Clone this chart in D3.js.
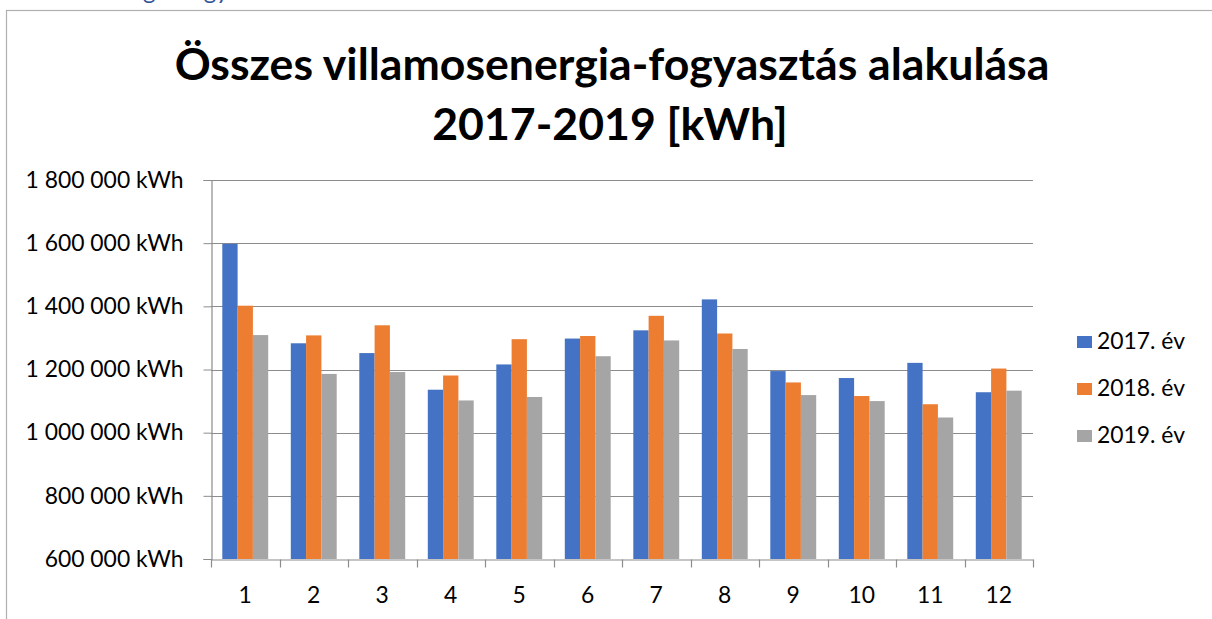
<!DOCTYPE html>
<html>
<head>
<meta charset="utf-8">
<script src="https://cdn.jsdelivr.net/npm/d3@7"></script>
<style>
  html, body { margin: 0; padding: 0; background: #fff; }
  svg { display: block; }
</style>
</head>
<body>
<svg id="chart" width="1212" height="619"></svg>
<script>
// ---- data ----
const months = ["1","2","3","4","5","6","7","8","9","10","11","12"];
const seriesNames = ["2017. év","2018. év","2019. év"];
const values2017 = [1598000,1283000,1252000,1136000,1216000,1298000,1324000,1422000,1195000,1173000,1221000,1128000];
const values2018 = [1402000,1308000,1340000,1181000,1296000,1306000,1370000,1314000,1159000,1116000,1090000,1203000];
const values2019 = [1309000,1186000,1192000,1102000,1113000,1242000,1292000,1265000,1119000,1100000,1048000,1133000];
const yTicks = [600000,800000,1000000,1200000,1400000,1600000,1800000];
const titleLines = ["Összes villamosenergia-fogyasztás alakulása","2017-2019 [kWh]"];
const headingText = "Villamosenergia-fogyasztás";

const seriesValues = [values2017, values2018, values2019];
const colors = ["#4472C4","#ED7D31","#A5A5A5"];
const FONT = "Lato, 'Open Sans', 'Noto Sans', sans-serif";

const svg = d3.select("#chart");
const plot = {left: 211, right: 1033, top: 180, bottom: 559};

// chart frame
svg.append("rect")
  .attr("x", 6.5).attr("y", 10.5)
  .attr("width", 1240).attr("height", 700)
  .attr("fill", "#fff").attr("stroke", "#b0b0b0").attr("stroke-width", 1.2);

// partially visible heading above the frame
const heading = svg.append("text")
  .attr("y", -1)
  .attr("font-family", FONT)
  .attr("font-size", 24)
  .attr("fill", "#2F5597")
  .text(headingText);
{
  const idx = headingText.indexOf("g");
  const px = heading.node().getStartPositionOfChar(idx).x;
  heading.attr("x", 143 - px);
}

// helper to fit text width
function fitText(sel, target, baseSize) {
  sel.attr("font-size", baseSize);
  const w = sel.node().getComputedTextLength();
  sel.attr("font-size", baseSize * target / w);
}

// title
const t1 = svg.append("text")
  .attr("x", 612).attr("y", 80)
  .attr("text-anchor", "middle")
  .attr("font-family", FONT).attr("font-weight", 700)
  .attr("fill", "#000")
  .text(titleLines[0]);
fitText(t1, 875, 40);
const t2 = svg.append("text")
  .attr("x", 610).attr("y", 140)
  .attr("text-anchor", "middle")
  .attr("font-family", FONT).attr("font-weight", 700)
  .attr("fill", "#000")
  .text(titleLines[1]);
t2.attr("font-size", t1.attr("font-size"));

// scales
const x = d3.scaleBand()
  .domain(months)
  .range([plot.left, plot.right])
  .paddingInner(0.33)
  .paddingOuter(0.165);
const xSub = d3.scaleBand()
  .domain(d3.range(seriesNames.length))
  .range([0, x.bandwidth()]);
const y = d3.scaleLinear()
  .domain([600000, 1800000])
  .range([plot.bottom, plot.top]);

const fmt = v => d3.format(",")(v).replace(/,/g, " ") + " kWh";

// gridlines
svg.append("g")
  .selectAll("line")
  .data(yTicks.slice(1))
  .join("line")
  .attr("x1", plot.left).attr("x2", plot.right)
  .attr("y1", d => Math.round(y(d)) + 0.5).attr("y2", d => Math.round(y(d)) + 0.5)
  .attr("stroke", "#8c8c8c").attr("stroke-width", 1);

// bars
const groups = svg.append("g")
  .selectAll("g")
  .data(months)
  .join("g")
  .attr("transform", d => `translate(${x(d)},0)`);
groups.selectAll("rect")
  .data((m, i) => seriesValues.map((vals, s) => ({s, v: vals[i]})))
  .join("rect")
  .attr("x", d => xSub(d.s))
  .attr("width", xSub.bandwidth())
  .attr("y", d => y(d.v))
  .attr("height", d => y(600000) - y(d.v))
  .attr("fill", d => colors[d.s]);

// y axis
const yAxis = d3.axisLeft(y)
  .tickValues(yTicks)
  .tickSize(8)
  .tickPadding(20)
  .tickFormat(fmt);
const yg = svg.append("g")
  .attr("transform", `translate(${plot.left + 0.5},0)`)
  .call(yAxis);
yg.select(".domain").attr("stroke", "#8c8c8c").attr("stroke-width", 1.2);
yg.selectAll(".tick line").attr("stroke", "#8c8c8c");
yg.selectAll(".tick text")
  .attr("font-family", FONT).attr("font-size", 19).attr("fill", "#000");
{
  const n = yg.selectAll(".tick text").filter(d => d === 1800000).node();
  const w = n.getComputedTextLength();
  yg.selectAll(".tick text").attr("font-size", 19 * 158 / w);
}

// x axis
const xAxis = d3.axisBottom(x).tickSize(0).tickPadding(27);
const xg = svg.append("g")
  .attr("transform", `translate(0,${plot.bottom + 0.5})`)
  .call(xAxis);
xg.select(".domain").attr("stroke", "#8c8c8c").attr("stroke-width", 1.2);
xg.selectAll(".tick text")
  .attr("font-family", FONT).attr("font-size", yg.select(".tick text").attr("font-size"))
  .attr("fill", "#000");
// category boundary tick marks
xg.append("g")
  .selectAll("line")
  .data(months.concat(["end"]))
  .join("line")
  .attr("x1", (d, i) => Math.round(plot.left + i * x.step()) + 0.5)
  .attr("x2", (d, i) => Math.round(plot.left + i * x.step()) + 0.5)
  .attr("y1", 0).attr("y2", 8)
  .attr("stroke", "#8c8c8c").attr("stroke-width", 1.2);

// legend
const legendY = [342, 389, 436];
const lg = svg.append("g")
  .selectAll("g")
  .data(seriesNames)
  .join("g")
  .attr("transform", (d, i) => `translate(1077,${legendY[i]})`);
lg.append("rect")
  .attr("x", 0).attr("y", -6)
  .attr("width", 15).attr("height", 12)
  .attr("fill", (d, i) => colors[i]);
lg.append("text")
  .attr("x", 20).attr("y", 7)
  .attr("font-family", FONT)
  .attr("font-size", yg.select(".tick text").attr("font-size"))
  .attr("fill", "#000")
  .text(d => d);
</script>
</body>
</html>
